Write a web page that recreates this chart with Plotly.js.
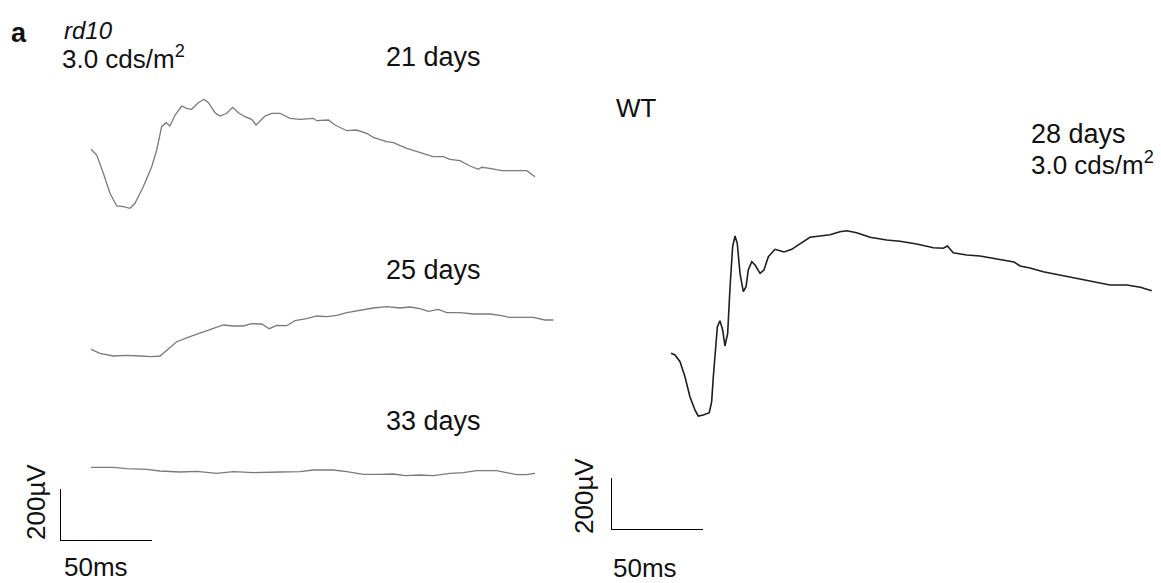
<!DOCTYPE html>
<html>
<head>
<meta charset="utf-8">
<script src="https://cdn.plot.ly/plotly-3.0.1.min.js"></script>
<style>html,body{margin:0;padding:0;background:#fff;}#chart{width:1161px;height:583px;}</style>
</head>
<body>
<div id="chart"></div>
<script>
// ---- Data: ERG traces, time in ms, amplitude in µV (relative to start) ----
const t21 = [0,3.1,6.7,10.3,14.0,17.6,21.2,23.9,28.4,33.0,35.7,38.4,40.8,42.9,45.7,49.3,52.0,54.7,58.3,61.4,63.8,67.4,70.1,73.8,77.0,80.1,83.7,87.3,89.7,91.8,94.6,98.2,102.7,108.2,113.6,120.8,122.7,129.0,132.6,139.0,144.4,149.8,153.4,160.7,164.3,171.6,178.8,186.0,191.5,195.1,200.5,206.0,210.5,212.3,216.8,223.2,229.5,236.8,241.3];
const a21 = [0,-21.9,-92.3,-169.2,-218,-220.8,-227,-207.7,-143.8,-66.9,-2.7,86.9,102.3,89.6,131.9,166.5,157.7,153.8,179.2,192.3,179.2,140.8,128.1,138.5,161.5,140.8,125.4,115.4,93.5,110,128.1,138.5,138.5,119.2,115.4,119.2,110,112.7,93.5,71.5,74.2,61.5,46.2,29.2,25.4,3.8,-13.1,-28.5,-28.5,-38.5,-43.8,-64.2,-76.9,-69.2,-73.1,-82.3,-82.3,-82.3,-105.4];

const t25 = [0,4.9,12.1,19.4,26.6,33.0,37.5,41.1,46.6,53.8,61.0,66.5,71.9,77.3,82.8,87.3,92.8,96.9,100.9,106.4,110.9,117.2,122.7,128.1,133.5,139.0,146.2,153.4,160.7,167.9,173.4,178.8,183.3,188.8,193.3,200.5,207.8,216.8,222.3,227.7,235.0,240.4,246.7,251.3];
const a25 = [0,-15.4,-25.8,-23.1,-25.8,-28.5,-25.8,-2.7,29.2,48.5,66.5,80.8,93.5,89.6,89.6,98.5,97.3,79.2,92.3,90.8,110,117.7,128.1,125.4,130.8,140.8,151.2,158.8,163.8,158.8,162.7,156.2,146.2,153.8,140.8,140.8,135.8,135.8,130.8,123.1,123.1,123.1,112.7,112.7];

const t33 = [0,12.1,19.4,30.3,37.5,48.4,57.5,68.3,77.3,88.2,102.7,113.6,120.8,131.7,139.0,148.0,157.1,164.3,170.7,178.8,186.0,195.1,202.3,209.6,220.5,225.9,231.4,236.8,241.3];
const a33 = [0,0,-5.4,-7.7,-14.2,-18.1,-15.4,-23.1,-16.9,-20.8,-18.1,-16.9,-10.4,-10.4,-16.9,-26.9,-26.9,-25.8,-32.3,-29.6,-32.3,-23.1,-20.8,-13.1,-13.1,-20.8,-28.5,-28.5,-23.1];

const tWT = [0,2.2,4.9,7.6,10.3,13.0,14.8,17.6,20.8,22.1,23.0,23.9,25.2,26.6,28.1,29.3,30.8,32.1,33.5,34.8,36.0,37.5,39.3,40.8,42.0,43.9,45.7,48.4,50.5,52.9,56.5,59.2,61.4,65.6,70.1,75.5,81.0,86.4,91.8,95.5,100.9,108.2,117.2,124.5,133.5,142.6,148.0,150.2,153.4,160.7,167.9,175.2,182.4,186.4,189.7,195.1,202.3,211.4,220.5,229.5,238.6,247.7,255.1,261.3];
const aWT = [0,-6.5,-32.3,-90,-166.9,-218.1,-241.2,-237.3,-228.5,-186.2,-90,0,102.3,125.4,89.6,28.1,76.9,256.1,410,451.1,423.1,307.7,236.9,256.1,320.4,352.3,339.6,307.7,320.4,371.5,400,394.6,389.6,400,420.4,446.1,451.1,456.1,467.7,471.5,463.8,446.1,435.8,430.8,420.4,406.1,403.8,412.7,386.9,378.1,374.2,365.4,353.8,351.2,335.8,328.1,313.8,301.2,288.5,278.1,262.7,262.7,253.8,240.8];

// Scale bars
const SCALE_MS = 50;
const SCALE_UV = 200;
const scaleX = [0, 0, SCALE_MS];
const scaleY = [SCALE_UV, 0, 0];

// Labels
const ageLabels = ["21 days", "25 days", "33 days", "28 days"];
const strainLabels = ["rd10", "WT"];
const intensityLabel = "3.0 cds/m<sup>2</sup>";
const scaleUVLabel = "200µV";
const scaleMSLabel = "50ms";
const panelLabel = "a";

// ---- Layout geometry ----
const W = 1161, H = 583;
const PX_PER_MS = 1.84, PX_PER_UV = 0.26;
const px = v => v / W;
const py = v => 1 - v / H;
function xr(domPx0, domPx1, originPx) { return [(domPx0 - originPx) / PX_PER_MS, (domPx1 - originPx) / PX_PER_MS]; }
function yr(basePx) { const top = basePx / PX_PER_UV; return [top - H / PX_PER_UV, top]; }

const grey = "#7a7a7a", dark = "#1e1e1e";
const hidden = {visible: false, fixedrange: true, showgrid: false, zeroline: false};

const traces = [
  {x: t21, y: a21, xaxis: "x", yaxis: "y", mode: "lines", line: {color: grey, width: 1.3}, hoverinfo: "skip"},
  {x: t25, y: a25, xaxis: "x", yaxis: "y2", mode: "lines", line: {color: grey, width: 1.3}, hoverinfo: "skip"},
  {x: t33, y: a33, xaxis: "x", yaxis: "y3", mode: "lines", line: {color: grey, width: 1.3}, hoverinfo: "skip"},
  {x: tWT, y: aWT, xaxis: "x2", yaxis: "y4", mode: "lines", line: {color: dark, width: 1.6}, hoverinfo: "skip"},
  {x: scaleX, y: scaleY, xaxis: "x3", yaxis: "y5", mode: "lines", line: {color: "#000", width: 2}, hoverinfo: "skip"},
  {x: scaleX, y: scaleY, xaxis: "x4", yaxis: "y6", mode: "lines", line: {color: "#000", width: 2}, hoverinfo: "skip"}
];

const FAMILY = "Liberation Sans, Arial, sans-serif";
const font = {family: FAMILY, size: 26, color: "#111"};
function ann(text, xPx, yPx, extra) {
  return Object.assign({text: text, xref: "paper", yref: "paper", x: px(xPx), y: py(yPx),
    xanchor: "left", yanchor: "middle", showarrow: false, font: font}, extra || {});
}

const layout = {
  width: W, height: H,
  margin: {l: 0, r: 0, t: 0, b: 0},
  paper_bgcolor: "#fff", plot_bgcolor: "rgba(0,0,0,0)",
  showlegend: false,
  xaxis: Object.assign({domain: [0, 0.5], range: xr(0, W / 2, 91)}, hidden),
  xaxis2: Object.assign({domain: [0.5, 1], range: xr(W / 2, W, 671)}, hidden),
  xaxis3: Object.assign({domain: [px(60), px(260)], range: [0, 200 / PX_PER_MS], anchor: "y5"}, hidden),
  xaxis4: Object.assign({domain: [px(611), px(811)], range: [0, 200 / PX_PER_MS], anchor: "y6"}, hidden),
  yaxis: Object.assign({domain: [0, 1], range: yr(149.3)}, hidden),
  yaxis2: Object.assign({domain: [0, 1], range: yr(349.3), overlaying: "y"}, hidden),
  yaxis3: Object.assign({domain: [0, 1], range: yr(467.3), overlaying: "y"}, hidden),
  yaxis4: Object.assign({domain: [0, 1], range: yr(353.3), anchor: "x2"}, hidden),
  yaxis5: Object.assign({domain: [py(541), py(341)], range: [0, 200 / PX_PER_UV], anchor: "x3"}, hidden),
  yaxis6: Object.assign({domain: [py(530), py(330)], range: [0, 200 / PX_PER_UV], anchor: "x4"}, hidden),
  annotations: [
    ann(panelLabel, 9, 33, {font: {family: FAMILY, size: 27, color: "#111", weight: "bold"}}),
    ann("<i>" + strainLabels[0] + "</i>", 62, 30, {font: Object.assign({}, font, {size: 24})}),
    ann(intensityLabel, 60, 57),
    ann(ageLabels[0], 384, 57, {font: Object.assign({}, font, {size: 27})}),
    ann(ageLabels[1], 384, 270, {font: Object.assign({}, font, {size: 27})}),
    ann(ageLabels[2], 384, 421, {font: Object.assign({}, font, {size: 27})}),
    ann(strainLabels[1], 614, 108),
    ann(ageLabels[3], 1029, 134, {font: Object.assign({}, font, {size: 27})}),
    ann(intensityLabel, 1029, 163),
    ann(scaleUVLabel, 36, 502, {xanchor: "center", textangle: -90}),
    ann(scaleMSLabel, 62, 567),
    ann(scaleUVLabel, 584, 496, {xanchor: "center", textangle: -90}),
    ann(scaleMSLabel, 611, 568)
  ]
};

Plotly.newPlot("chart", traces, layout, {staticPlot: true, displayModeBar: false});
</script>
</body>
</html>
